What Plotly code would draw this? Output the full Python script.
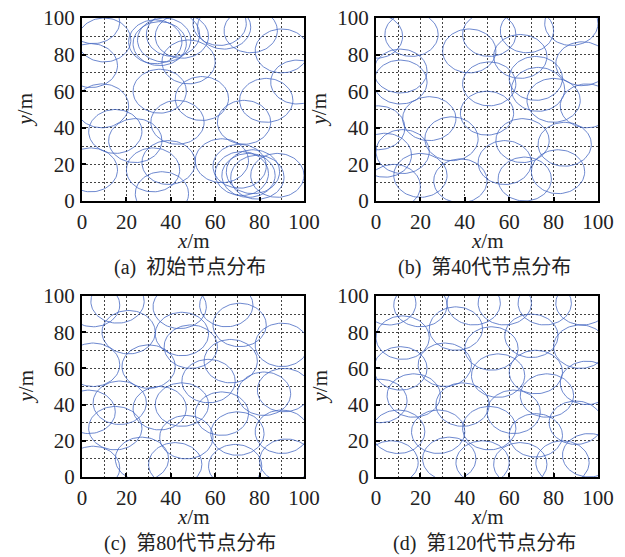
import numpy as np
import plotly.graph_objects as go

# ---- data: node (sensor) centres, sensing radius ----
R = 12
a_x = [10, 4, 9, 15, 24, 4, 32, 39, 36, 35, 54, 43, 33, 35, 37, 41, 45, 48, 62, 64, 76, 90, 97, 83, 73, 63, 71, 72, 75, 77, 79, 88, 5]
a_y = [88, 74, 52, 38, 33, 17, 17, 21, 4, 60, 56, 43, 87, 86, 88, 91, 90, 76, 97, 95, 93, 82, 65, 55, 43, 22, 19, 15, 14, 16, 13, 14, 98]

b_x = [0, 16, 11, 11, 42, 51, 68, 65, 88, 93, 51, 72, 73, 80, 95, 50, 24, 1, 34, 12, 4, 20, 8, 38, 58, 66, 67, 82, 85]
b_y = [90, 91, 71, 65, 82, 91, 93, 79, 97, 75, 64, 67, 61, 55, 52, 48, 45, 40, 34, 27, 25, 14, 8, 11, 21, 33, 12, 16, 31]

c_x = [5, 16, 21, 44, 65, 71, 45, 49, 90, 30, 67, 57, 5, 91, 82, 3, 17, 15, 35, 45, 47, 63, 70, 90, 27, 42, 69, 5, 92]
c_y = [95, 97, 80, 94, 95, 84, 79, 72, 73, 61, 64, 53, 62, 48, 46, 36, 41, 27, 38, 40, 22, 35, 24, 25, 10, 7, 6, 5, 9]

d_x = [6, 20, 44, 58, 76, 93, 12, 36, 52, 70, 92, 11, 31, 55, 72, 95, 2, 17, 39, 62, 77, 10, 28, 51, 72, 90, 7, 33, 48, 65, 84, 96]
d_y = [96, 95, 96, 96, 96, 96, 77, 82, 71, 78, 72, 60, 62, 56, 58, 52, 42, 45, 40, 36, 45, 25, 25, 27, 23, 30, 8, 10, 8, 7, 8, 12]

tick_vals = [0, 20, 40, 60, 80, 100]
tick_text = ["0", "20", "40", "60", "80", "100"]
captions = ["(a)  初始节点分布", "(b)  第40代节点分布", "(c)  第80代节点分布", "(d)  第120代节点分布"]

W, H = 625, 557
OFF = 8  # page body margin
panels_px = [  # (x0, x1, y0, y1) plot-area pixel boxes as seen on the page
    (82, 304, 18, 201),
    (376, 598, 18, 201),
    (82, 304, 296, 477),
    (376, 598, 296, 477),
]

def fx(p):
    return (p - OFF) / W

def fy(p):
    return 1 - (p - OFF) / H

def circles(cx, cy, r):
    t = np.linspace(0, 2 * np.pi, 90)
    xs, ys = [], []
    for x0, y0 in zip(cx, cy):
        xs += list(x0 + r * np.cos(t)) + [None]
        ys += list(y0 + r * np.sin(t)) + [None]
    return xs, ys

fig = go.Figure()
data = [(a_x, a_y), (b_x, b_y), (c_x, c_y), (d_x, d_y)]
serif = "Liberation Serif, Times New Roman, serif"
cjk = "Liberation Serif, Noto Sans CJK SC, serif"

annotations = []
for i, ((cx, cy), (px0, px1, py0, py1)) in enumerate(zip(data, panels_px)):
    n = "" if i == 0 else str(i + 1)
    xs, ys = circles(cx, cy, R)
    fig.add_trace(go.Scatter(x=xs, y=ys, mode="lines",
                             line=dict(color="rgb(72,105,195)", width=0.8),
                             xaxis="x" + n, yaxis="y" + n, showlegend=False,
                             hoverinfo="skip"))
    axcommon = dict(range=[0, 100], tickvals=tick_vals, ticktext=tick_text,
                    showline=True, linecolor="black", linewidth=2, mirror=True,
                    ticks="inside", ticklen=4, tickwidth=1.5, tickcolor="black",
                    showgrid=True, gridcolor="#444", gridwidth=0.8, griddash="2px,2px",
                    minor=dict(dtick=10, tick0=0, showgrid=True, gridcolor="#444",
                               gridwidth=0.8, griddash="2px,2px", ticks=""),
                    zeroline=False, fixedrange=True, automargin=False,
                    ticklabeloverflow="allow",
                    tickfont=dict(family=serif, size=21, color="#222"))
    fig.layout["xaxis" + n] = go.layout.XAxis(domain=[fx(px0), fx(px1)], anchor="y" + n,
                                              ticklabelstandoff=1, **axcommon)
    fig.layout["yaxis" + n] = go.layout.YAxis(domain=[fy(py1), fy(py0)], anchor="x" + n,
                                              ticklabelstandoff=1, **axcommon)

    xc = (px0 + px1) / 2
    annotations.append(dict(x=fx(xc), y=fy(py1 + 40), xref="paper", yref="paper",
                            text="<i>x</i>/m", showarrow=False,
                            font=dict(family=serif, size=21, color="#222"),
                            xanchor="center", yanchor="middle"))
    annotations.append(dict(x=fx(xc - 3), y=fy(py1 + 66), xref="paper", yref="paper",
                            text=captions[i], showarrow=False,
                            font=dict(family=cjk, size=20, color="#222"),
                            xanchor="center", yanchor="middle"))
    annotations.append(dict(x=fx(px0 - 57), y=fy((py0 + py1) / 2), xref="paper", yref="paper",
                            text="<i>y</i>/m", showarrow=False, textangle=-90,
                            font=dict(family=serif, size=21, color="#222"),
                            xanchor="center", yanchor="middle"))

fig.update_layout(width=W, height=H, margin=dict(l=0, r=0, t=0, b=0, autoexpand=False),
                  paper_bgcolor="white", plot_bgcolor="white",
                  annotations=annotations, showlegend=False)

fig.write_html("out.html")
